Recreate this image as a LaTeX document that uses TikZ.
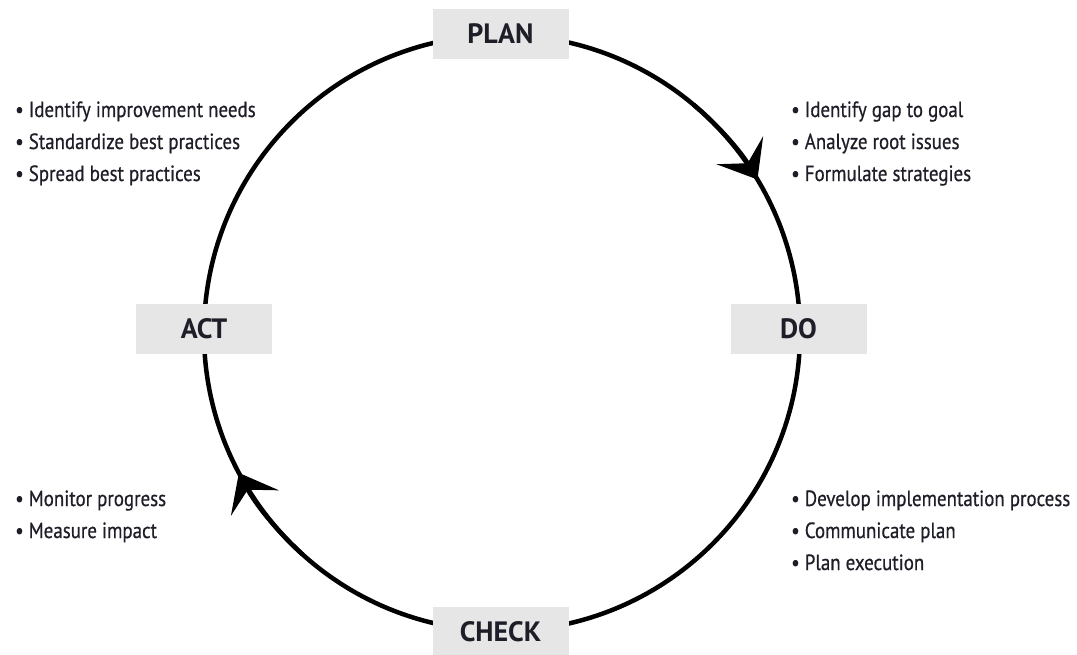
\documentclass[tikz,border=0pt]{standalone}
\usepackage{fontspec}
\setmainfont{PT Sans}
\newfontfamily\condfont[FakeStretch=0.86,FakeBold=0.6]{PT Sans}
\usetikzlibrary{arrows.meta,calc}
\definecolor{boxgray}{HTML}{E6E6E6}
\definecolor{txt}{HTML}{1E1E28}
\begin{document}
\begin{tikzpicture}[x=1pt,y=-1pt,
  stage/.style={fill=boxgray, minimum width=136pt, minimum height=50pt, inner sep=0pt,
    font=\fontsize{28}{32}\selectfont\bfseries, text=txt},
  bul/.style={align=left, anchor=base west, inner sep=0pt,
    font=\condfont\fontsize{22}{32}\selectfont, text=txt},
  ring/.style={line width=4.5pt, black},
  tipped/.style={ring, -{Stealth[length=34pt,width=54pt,inset=15pt]}}]
\useasboundingbox (0,0) rectangle (1077,654);
\coordinate (c) at (502,333);
\draw[ring] (c) circle[radius=298];
\draw[tipped] ($(c)+(-50:298)$) arc[start angle=-50, end angle=-31, radius=298];
\draw[tipped] ($(c)+(132:298)$) arc[start angle=132, end angle=152, radius=298];
\node[stage] (plan) at (500.5,34) {PLAN};
\node[stage] (do) at (798.5,329) {DO};
\node[stage] (check) at (500.5,632) {CHECK};
\node[stage] (act) at (204,329) {ACT};
% anchor=base west of a multi-line node sits on its last line
\node[bul] (actlist) at (15,181) {\textbullet\ Identify improvement needs\\ \textbullet\ Standardize best practices\\ \textbullet\ Spread best practices};
\node[bul] (planlist) at (791,181) {\textbullet\ Identify gap to goal\\ \textbullet\ Analyze root issues\\ \textbullet\ Formulate strategies};
\node[bul] (dolist) at (791,570) {\textbullet\ Develop implementation process\\ \textbullet\ Communicate plan\\ \textbullet\ Plan execution};
\node[bul] (checklist) at (15,538) {\textbullet\ Monitor progress\\ \textbullet\ Measure impact};
\end{tikzpicture}
\end{document}
